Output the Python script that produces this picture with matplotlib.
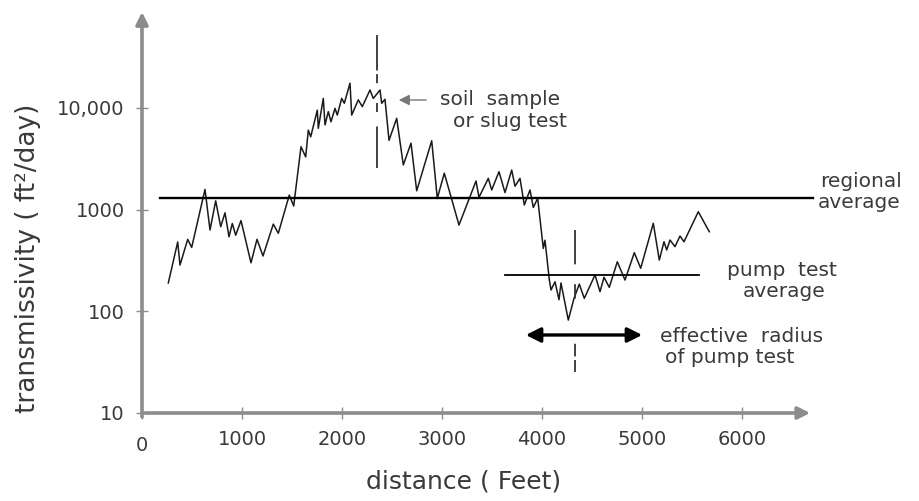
import numpy as np
import matplotlib.pyplot as plt

# transmissivity profile along the section
distance_ft = [263, 357, 380, 457, 497, 630, 680, 737, 787, 830, 870, 903, 937, 990,
               1090, 1150, 1210, 1313, 1363, 1473, 1517, 1590, 1637, 1663, 1687, 1753,
               1763, 1813, 1830, 1863, 1890, 1930, 1953, 1997, 2023, 2080, 2097, 2163,
               2203, 2280, 2313, 2380, 2397, 2430, 2470, 2547, 2613, 2690, 2747, 2897,
               2953, 3023, 3170, 3340, 3370, 3463, 3497, 3570, 3630, 3697, 3730, 3780,
               3823, 3880, 3913, 3957, 4013, 4030, 4073, 4090, 4130, 4170, 4190, 4263,
               4320, 4373, 4423, 4530, 4580, 4620, 4673, 4753, 4830, 4923, 4987, 5113,
               5173, 5220, 5247, 5280, 5330, 5380, 5420, 5563, 5673]
transmissivity = [190, 480, 285, 510, 425, 1580, 630, 1220, 680, 930, 540, 730, 560, 780,
                  300, 510, 350, 720, 585, 1390, 1085, 4150, 3300, 6050, 5200, 9500,
                  6300, 12400, 6800, 9200, 7300, 9900, 8500, 12400, 11100, 17500, 8500, 12000,
                  10300, 15000, 12400, 15000, 11100, 12150, 4800, 7900, 2750, 4500, 1530, 4750,
                  1290, 2280, 705, 1910, 1320, 2030, 1560, 2360, 1470, 2450, 1700, 2030,
                  1110, 1560, 1050, 1290, 415, 500, 205, 162, 195, 130, 190, 82,
                  134, 185, 134, 228, 156, 216, 172, 307, 203, 377, 265, 733,
                  319, 483, 401, 502, 432, 550, 483, 953, 606]

regional_avg = 1300
regional_span = [180, 6710]
pump_avg = 230
pump_span = [3630, 5570]
slug_test_x = 2347
slug_test_range = [2570, 52000]
pump_well_x = 4330
pump_well_range = [25.3, 630]
radius_span = [3810, 5030]
radius_level = 58.5

xticks = [0, 1000, 2000, 3000, 4000, 5000, 6000]
yticks = [10, 100, 1000, 10000]
ytick_labels = ['10', '100', '1000', '10,000']

W, H = 919, 501
ink = '#3a3a3a'
axis_grey = '#8c8c8c'


def px(x, y):
    return x / W, 1 - y / H


fig = plt.figure(figsize=(W / 100, H / 100), dpi=100)
ax = fig.add_axes([142 / W, 88 / H, 675 / W, 401.7 / H])
ax.set_yscale('log')
ax.set_xlim(0, 6750)
ax.set_ylim(10, 10 ** 4.95)
for s in ax.spines.values():
    s.set_visible(False)

# hand drawn style axes with arrow heads
ax.annotate('', xy=(6710, 10), xytext=(0, 10),
            arrowprops=dict(arrowstyle='-|>', color=axis_grey, lw=2.6, mutation_scale=18),
            annotation_clip=False)
ax.annotate('', xy=(0, 10 ** 4.97), xytext=(0, 8.6),
            arrowprops=dict(arrowstyle='-|>', color=axis_grey, lw=2.6, mutation_scale=18),
            annotation_clip=False)

ax.set_xticks(xticks)
ax.set_xticklabels([str(v) for v in xticks])
ax.set_yticks(yticks)
ax.set_yticklabels(ytick_labels)
ax.minorticks_off()
ax.tick_params(axis='both', direction='inout', length=9, width=1, color=axis_grey,
               labelsize=14, labelcolor=ink)
ax.tick_params(axis='x', pad=8)
ax.tick_params(axis='y', pad=8)
ax.get_xticklabels()[0].set_y(-0.015)

# data trace
ax.plot(distance_ft, transmissivity, color='#1a1a1a', lw=1.1)

# averages
ax.plot(regional_span, [regional_avg] * 2, color='black', lw=1.7, clip_on=False)
ax.plot(pump_span, [pump_avg] * 2, color='black', lw=1.3)

# test locations
ax.plot([slug_test_x] * 2, slug_test_range, color='#333333', lw=1.3,
        linestyle=(0, (23, 8, 5, 11, 5, 2, 42, 60)))
ax.plot([pump_well_x] * 2, pump_well_range[::-1], color='#333333', lw=1.3,
        linestyle=(0, (19, 11, 8, 25, 7, 2, 30, 60)))

# effective radius arrow
ax.annotate('', xy=(radius_span[0], radius_level), xytext=(radius_span[1], radius_level),
            arrowprops=dict(arrowstyle='<|-|>', color='black', lw=2.4, mutation_scale=22))

# pointer to the slug test
ax.annotate('', xy=(2540, 11960), xytext=(2870, 11960),
            arrowprops=dict(arrowstyle='-|>', color='#777777', lw=1.0, mutation_scale=16))

txt = dict(fontsize=14.5, color=ink, va='baseline', ha='left')
fig.text(*px(440, 105), 'soil  sample', **txt)
fig.text(*px(453, 127), 'or slug test', **txt)
fig.text(*px(820, 187), 'regional', **txt)
fig.text(*px(818, 208), 'average', **txt)
fig.text(*px(727, 276), 'pump  test', **txt)
fig.text(*px(743, 297), 'average', **txt)
fig.text(*px(660, 342), 'effective  radius', **txt)
fig.text(*px(665, 363), 'of pump test', **txt)

fig.text(*px(464, 481), 'distance ( Feet)', fontsize=18, color=ink, ha='center', va='center')
fig.text(*px(28, 258), 'transmissivity ( ft²/day)', fontsize=19, color=ink,
         ha='center', va='center', rotation=90)

fig.savefig('out.png', dpi=100)
